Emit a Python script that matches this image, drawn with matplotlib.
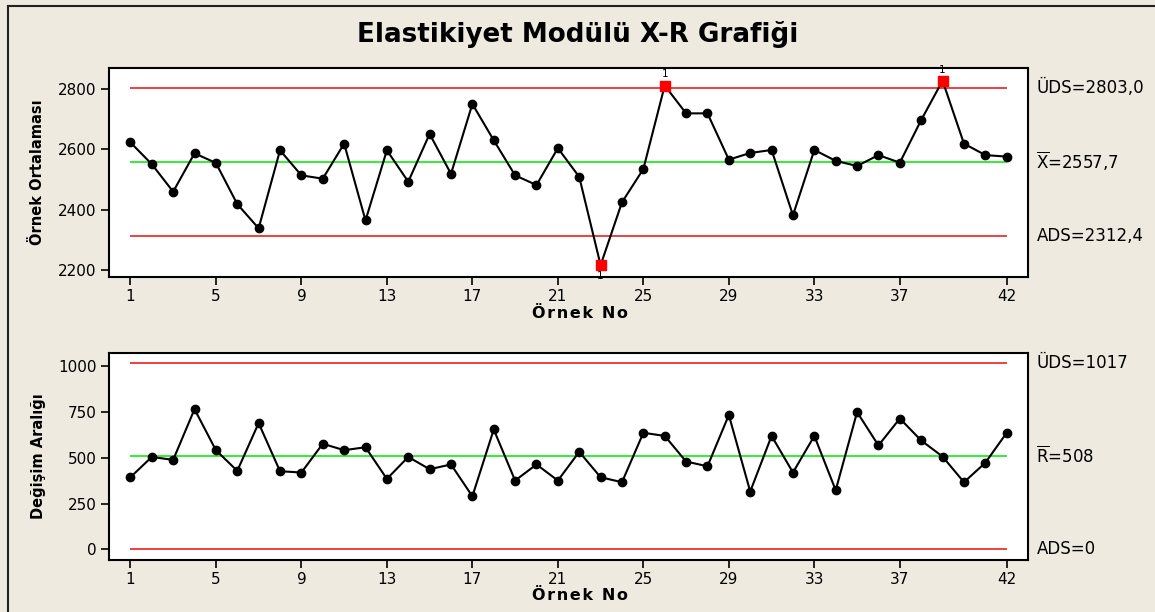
import numpy as np
import matplotlib
matplotlib.use("Agg")
import matplotlib.pyplot as plt
from matplotlib.lines import Line2D

# Veri
orneks = list(range(1, 43))
ortalama = [2622, 2550, 2459, 2586, 2554, 2418, 2338, 2596, 2513, 2502,
            2618, 2364, 2596, 2492, 2650, 2518, 2749, 2629, 2513, 2481,
            2603, 2508, 2216, 2424, 2534, 2810, 2718, 2718, 2565, 2587,
            2597, 2381, 2597, 2561, 2544, 2580, 2555, 2696, 2826, 2618,
            2580, 2575]
aralik = [394, 505, 489, 766, 542, 429, 690, 427, 420, 577,
          542, 558, 385, 505, 438, 464, 290, 655, 376, 464,
          376, 533, 394, 367, 637, 620, 480, 454, 734, 316,
          620, 420, 620, 323, 750, 568, 715, 595, 507, 367,
          473, 637]
x_limits = [2312.4, 2557.7, 2803.0]   # ADS, orta, UDS
r_limits = [0, 508, 1017]
x_labels = ["ADS=2312,4", r"$\overline{\mathrm{X}}$=2557,7", "ÜDS=2803,0"]
r_labels = ["ADS=0", r"$\overline{\mathrm{R}}$=508", "ÜDS=1017"]
x_ticks = [1, 5, 9, 13, 17, 21, 25, 29, 33, 37, 42]
out_pts = [23, 26, 39]

bg = "#eeeae0"
red = "#f03030"
green = "#22ee22"
narrow = ["Liberation Sans Narrow", "DejaVu Sans"]

fig = plt.figure(figsize=(11.55, 6.12), dpi=100, facecolor=bg)

# dis cerceve
x0, ytop = 8 / 1155, 1 - 6 / 612
fig.add_artist(Line2D([x0, x0], [0, ytop], color="#222222", lw=1.5))
fig.add_artist(Line2D([x0, 1], [ytop, ytop], color="#222222", lw=1.5))

fig.text(0.5, 0.943, "Elastikiyet Modülü X-R Grafiği", ha="center", va="center",
         fontsize=18.8, fontweight="bold")

ax1 = fig.add_axes([0.0944, 0.5474, 0.7957, 0.3415])
ax2 = fig.add_axes([0.0944, 0.0850, 0.7957, 0.3382])


def style(ax, yticks, ylim):
    ax.set_xlim(0, 43)
    ax.set_ylim(*ylim)
    ax.set_xticks(x_ticks)
    ax.set_yticks(yticks)
    ax.tick_params(direction="out", length=6, width=1.2, labelsize=11, pad=3)
    for s in ax.spines.values():
        s.set_linewidth(1.5)


def draw(ax, vals, limits, labels):
    ax.hlines([limits[0], limits[2]], 1, 42, color=red, lw=1.3, zorder=1)
    ax.hlines(limits[1], 1, 42, color=green, lw=1.3, zorder=1)
    ax.plot(orneks, vals, color="black", lw=1.5, marker="o", ms=6, zorder=2)
    for v, t in zip(limits, labels):
        ax.annotate(t, xy=(1.0, v), xycoords=("axes fraction", "data"),
                    xytext=(6, 0), textcoords="offset points", va="center",
                    fontsize=12, annotation_clip=False)


draw(ax1, ortalama, x_limits, x_labels)
for i in out_pts:
    v = ortalama[i - 1]
    ax1.plot(i, v, marker="s", ms=7, color="red", zorder=3)
    off = -8 if v < x_limits[1] else 8
    ax1.annotate("1", xy=(i, v), xytext=(0, off), textcoords="offset points",
                 ha="center", va="center", fontsize=7.5)
style(ax1, [2200, 2400, 2600, 2800], (2177, 2868))

draw(ax2, aralik, r_limits, r_labels)
style(ax2, [0, 250, 500, 750, 1000], (-58, 1073))

fig.text(38 / 1155, (ax1.get_position().y0 + ax1.get_position().y1) / 2,
         "Örnek Ortalaması", rotation=90, ha="center", va="center",
         fontsize=10.5, fontweight="bold", family=narrow)
fig.text(38 / 1155, (ax2.get_position().y0 + ax2.get_position().y1) / 2,
         "Değişim Aralığı", rotation=90, ha="center", va="center",
         fontsize=10.5, fontweight="bold", family=narrow)
xl = "\u200a".join("Örnek No")
fig.text(0.502, 1 - 313 / 612, xl, ha="center", va="center",
         fontsize=11.5, fontweight="bold")
fig.text(0.502, 1 - 596 / 612, xl, ha="center", va="center",
         fontsize=11.5, fontweight="bold")

fig.savefig("out.png", dpi=100, facecolor=bg)
